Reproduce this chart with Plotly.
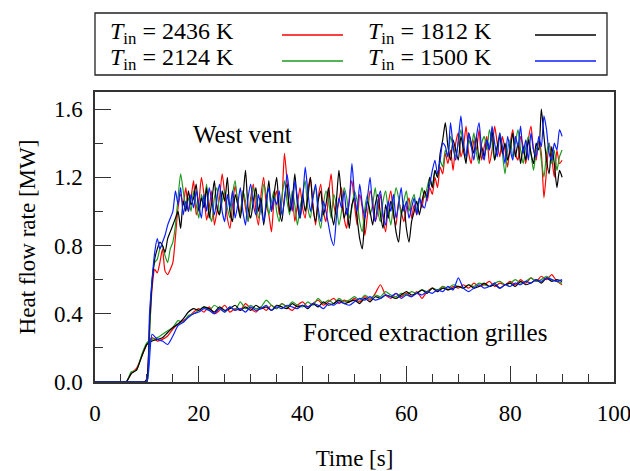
import plotly.graph_objects as go

# ---------------- data ----------------
t_vent = [i * 0.5 for i in range(181)]      # 0 .. 90 s, 0.5 s step
t_grille = list(range(91))                   # 0 .. 90 s, 1 s step

labels = ["2436 K", "2124 K", "1812 K", "1500 K"]

vent_2436 = [
    0, 0, 0, 0, 0, 0, 0, 0, 0, 0,
    0, 0, 0, 0, 0, 0, 0, 0, 0, 0,
    0.02, 0.30, 0.55, 0.66, 0.64, 0.70, 0.78, 0.65, 0.63, 0.66,
    0.70, 0.85, 1.02, 1.10, 1.04, 1.14, 1.00, 1.08, 1.18, 0.98,
    1.05, 1.20, 1.10, 0.95, 1.02, 1.12, 0.92, 1.00, 1.08, 1.22,
    1.10, 0.96, 0.90, 1.04, 1.15, 1.06, 0.98, 1.12, 1.02, 0.94,
    1.08, 1.16, 1.00, 0.92, 1.10, 1.20, 1.04, 0.98, 0.88, 1.06,
    1.12, 0.98, 1.06, 1.34, 1.18, 1.00, 1.10, 0.94, 1.04, 1.14,
    1.02, 0.96, 1.12, 1.20, 1.04, 0.92, 1.08, 1.16, 1.00, 0.94,
    1.10, 1.22, 1.04, 0.98, 1.06, 1.14, 0.96, 0.90, 1.08, 1.18,
    1.04, 0.92, 1.10, 1.02, 0.86, 0.98, 1.12, 1.06, 0.94, 1.00,
    1.10, 0.96, 0.88, 1.04, 1.12, 0.98, 0.92, 1.06, 1.00, 0.94,
    1.02, 1.08, 0.96, 1.04, 0.98, 1.08, 1.02, 1.12, 1.06, 1.14,
    1.10, 1.20, 1.14, 1.26, 1.22, 1.34, 1.28, 1.36, 1.24, 1.40,
    1.46, 1.32, 1.38, 1.50, 1.34, 1.28, 1.42, 1.36, 1.48, 1.30,
    1.38, 1.44, 1.28, 1.36, 1.50, 1.40, 1.32, 1.44, 1.36, 1.26,
    1.40, 1.48, 1.34, 1.30, 1.44, 1.38, 1.28, 1.42, 1.50, 1.36,
    1.30, 1.42, 1.34, 1.08, 1.24, 1.40, 1.32, 1.20, 1.36, 1.28,
    1.30,
]
vent_2124 = [
    0, 0, 0, 0, 0, 0, 0, 0, 0, 0,
    0, 0, 0, 0, 0, 0, 0, 0, 0, 0,
    0.0, 0.26, 0.60, 0.70, 0.72, 0.78, 0.80, 0.74, 0.70, 0.78,
    0.82, 0.92, 1.08, 1.22, 1.12, 1.02, 1.08, 1.00, 1.12, 1.04,
    0.96, 1.10, 1.04, 1.16, 1.00, 0.94, 1.08, 1.14, 0.98, 1.06,
    1.12, 1.02, 0.96, 1.10, 1.18, 1.04, 0.98, 1.12, 1.06, 0.94,
    1.04, 1.14, 1.08, 0.96, 1.02, 1.16, 1.10, 0.98, 1.06, 1.12,
    1.00, 0.94, 1.08, 1.18, 1.06, 0.98, 1.12, 1.04, 0.92, 1.02,
    1.10, 1.18, 1.02, 0.96, 1.08, 1.14, 0.98, 0.90, 1.04, 1.12,
    1.06, 0.96, 1.10, 1.04, 0.92, 1.00, 1.14, 1.08, 0.96, 1.02,
    1.12, 1.06, 0.94, 0.88, 1.02, 1.10, 0.98, 1.04, 1.14, 1.00,
    0.94, 1.06, 1.12, 1.00, 0.92, 1.04, 1.14, 1.08, 0.98, 1.06,
    1.12, 1.00, 1.06, 1.10, 1.00, 1.06, 1.14, 1.08, 1.14, 1.20,
    1.14, 1.24, 1.20, 1.30, 1.26, 1.36, 1.32, 1.44, 1.38, 1.32,
    1.40, 1.48, 1.36, 1.30, 1.42, 1.38, 1.46, 1.34, 1.28, 1.40,
    1.44, 1.36, 1.48, 1.40, 1.30, 1.38, 1.46, 1.34, 1.22, 1.36,
    1.42, 1.32, 1.40, 1.48, 1.36, 1.28, 1.38, 1.44, 1.34, 1.24,
    1.36, 1.42, 1.30, 1.20, 1.34, 1.40, 1.28, 1.36, 1.24, 1.32,
    1.36,
]
vent_1812 = [
    0, 0, 0, 0, 0, 0, 0, 0, 0, 0,
    0, 0, 0, 0, 0, 0, 0, 0, 0, 0,
    0.02, 0.34, 0.58, 0.72, 0.78, 0.82, 0.80, 0.76, 0.84, 0.88,
    0.92, 0.96, 1.00, 0.90, 1.06, 1.00, 1.12, 1.04, 1.08, 1.16,
    1.00, 1.08, 1.02, 1.14, 0.96, 1.06, 1.18, 1.02, 0.98, 1.12,
    1.06, 1.20, 1.00, 0.94, 1.10, 1.04, 0.96, 1.08, 1.24, 1.02,
    0.96, 1.06, 1.14, 1.00, 1.08, 0.92, 1.04, 1.18, 1.00, 1.10,
    1.20, 1.02, 0.94, 1.08, 1.16, 1.00, 1.06, 1.22, 1.04, 0.96,
    1.10, 1.00, 1.08, 1.20, 1.02, 0.94, 1.06, 1.12, 0.98, 1.04,
    1.14, 1.00, 0.92, 1.06, 1.24, 1.08, 0.96, 1.02, 0.90, 1.04,
    1.08, 0.96, 0.84, 0.78, 0.96, 1.06, 1.00, 0.92, 1.04, 1.10,
    0.98, 0.90, 1.04, 0.96, 1.06, 1.00, 0.88, 0.82, 0.98, 1.04,
    0.90, 0.82, 0.94, 1.00, 1.06, 0.98, 1.06, 1.12, 1.08, 1.20,
    1.14, 1.24, 1.20, 1.34, 1.42, 1.52, 1.38, 1.30, 1.42, 1.36,
    1.30, 1.44, 1.36, 1.28, 1.46, 1.40, 1.34, 1.44, 1.30, 1.38,
    1.32, 1.42, 1.36, 1.48, 1.30, 1.38, 1.44, 1.34, 1.40, 1.30,
    1.36, 1.46, 1.32, 1.40, 1.28, 1.38, 1.30, 1.42, 1.34, 1.28,
    1.40, 1.36, 1.60, 1.44, 1.30, 1.22, 1.38, 1.28, 1.14, 1.24,
    1.20,
]
vent_1500 = [
    0, 0, 0, 0, 0, 0, 0, 0, 0, 0,
    0, 0, 0, 0, 0, 0, 0, 0, 0, 0,
    0.0, 0.40, 0.60, 0.76, 0.84, 0.78, 0.82, 0.86, 0.92, 0.96,
    1.00, 1.12, 1.04, 1.14, 0.98, 1.06, 1.00, 1.10, 1.02, 1.12,
    1.04, 0.96, 1.10, 1.00, 1.14, 1.06, 0.98, 1.08, 1.16, 1.00,
    0.94, 1.10, 1.02, 1.12, 0.96, 1.04, 1.14, 1.00, 0.92, 1.08,
    1.16, 1.04, 0.98, 1.10, 1.02, 0.94, 1.06, 1.14, 1.00, 1.08,
    1.04, 1.12, 0.98, 1.06, 1.22, 1.10, 1.00, 1.18, 1.08, 0.96,
    1.06, 1.26, 1.12, 1.00, 1.08, 1.16, 1.02, 0.94, 1.06, 1.00,
    0.92, 0.84, 0.80, 0.96, 1.08, 1.02, 1.12, 0.98, 1.06, 1.28,
    1.10, 1.00, 1.16, 1.04, 0.96, 1.08, 1.20, 1.02, 0.94, 1.06,
    1.12, 0.98, 0.92, 1.06, 1.00, 1.10, 0.96, 1.04, 1.14, 1.00,
    1.06, 0.96, 1.02, 1.08, 0.98, 1.08, 1.04, 1.02, 1.10, 1.16,
    1.24, 1.30, 1.22, 1.30, 1.40, 1.38, 1.32, 1.52, 1.38, 1.30,
    1.42, 1.56, 1.40, 1.32, 1.46, 1.38, 1.30, 1.44, 1.52, 1.36,
    1.30, 1.42, 1.36, 1.50, 1.40, 1.32, 1.46, 1.38, 1.28, 1.44,
    1.36, 1.30, 1.44, 1.38, 1.50, 1.34, 1.42, 1.30, 1.46, 1.36,
    1.32, 1.44, 1.38, 1.56, 1.48, 1.34, 1.30, 1.40, 1.36, 1.48,
    1.44,
]

grille_2436 = [
    0, 0, 0, 0, 0, 0, 0, 0.05, 0.08, 0.15,
    0.22, 0.26, 0.24, 0.25, 0.27, 0.31, 0.34, 0.36, 0.38, 0.41,
    0.43, 0.41, 0.44, 0.40, 0.42, 0.45, 0.41, 0.43, 0.42, 0.46,
    0.43, 0.41, 0.44, 0.42, 0.45, 0.43, 0.46, 0.44, 0.42, 0.45,
    0.47, 0.44, 0.46, 0.48, 0.45, 0.47, 0.49, 0.46, 0.48, 0.47,
    0.49, 0.47, 0.50, 0.48, 0.52, 0.57, 0.51, 0.49, 0.52, 0.50,
    0.52, 0.50, 0.53, 0.49, 0.53, 0.55, 0.53, 0.56, 0.54, 0.56,
    0.55, 0.57, 0.55, 0.58, 0.56, 0.57, 0.59, 0.56, 0.58, 0.57,
    0.59, 0.57, 0.60, 0.58, 0.61, 0.59, 0.62, 0.60, 0.63, 0.59,
    0.57,
]
grille_2124 = [
    0, 0, 0, 0, 0, 0, 0, 0.06, 0.07, 0.16,
    0.23, 0.25, 0.26, 0.28, 0.30, 0.32, 0.36, 0.35, 0.39, 0.40,
    0.42, 0.44, 0.42, 0.45, 0.43, 0.41, 0.44, 0.42, 0.47, 0.43,
    0.45, 0.43, 0.44, 0.48, 0.45, 0.43, 0.46, 0.44, 0.47, 0.45,
    0.44, 0.47, 0.45, 0.49, 0.46, 0.48, 0.46, 0.49, 0.47, 0.48,
    0.50, 0.48, 0.51, 0.49, 0.51, 0.50, 0.53, 0.51, 0.50, 0.52,
    0.51, 0.53, 0.52, 0.54, 0.53, 0.55, 0.54, 0.56, 0.55, 0.57,
    0.56, 0.55, 0.57, 0.56, 0.58, 0.57, 0.56, 0.58, 0.59, 0.57,
    0.58, 0.60, 0.58, 0.59, 0.61, 0.59, 0.60, 0.62, 0.60, 0.59,
    0.58,
]
grille_1812 = [
    0, 0, 0, 0, 0, 0, 0, 0.05, 0.07, 0.15,
    0.22, 0.24, 0.25, 0.26, 0.29, 0.32, 0.34, 0.37, 0.41, 0.43,
    0.42, 0.44, 0.43, 0.41, 0.44, 0.42, 0.43, 0.45, 0.42, 0.44,
    0.42, 0.45, 0.43, 0.44, 0.42, 0.45, 0.44, 0.43, 0.46, 0.44,
    0.45, 0.43, 0.46, 0.44, 0.47, 0.45, 0.46, 0.48, 0.46, 0.47,
    0.48, 0.46, 0.49, 0.47, 0.50, 0.49, 0.51, 0.50, 0.49, 0.51,
    0.53, 0.51, 0.52, 0.54, 0.52, 0.55, 0.53, 0.55, 0.54, 0.55,
    0.56, 0.55, 0.57, 0.55, 0.56, 0.58, 0.56, 0.57, 0.55, 0.57,
    0.58, 0.56, 0.59, 0.57, 0.58, 0.60, 0.58, 0.61, 0.59, 0.60,
    0.59,
]
grille_1500 = [
    0, 0, 0, 0, 0, 0, 0, 0, 0, 0,
    0.0, 0.28, 0.25, 0.24, 0.22, 0.27, 0.33, 0.35, 0.38, 0.40,
    0.41, 0.43, 0.42, 0.40, 0.43, 0.41, 0.44, 0.42, 0.43, 0.41,
    0.44, 0.42, 0.43, 0.45, 0.42, 0.44, 0.43, 0.45, 0.44, 0.43,
    0.45, 0.44, 0.46, 0.45, 0.43, 0.46, 0.45, 0.47, 0.46, 0.45,
    0.47, 0.49, 0.48, 0.50, 0.48, 0.49, 0.51, 0.50, 0.52, 0.49,
    0.51, 0.50, 0.52, 0.51, 0.53, 0.52, 0.54, 0.53, 0.56, 0.54,
    0.61, 0.55, 0.53, 0.55, 0.57, 0.55, 0.56, 0.58, 0.55, 0.57,
    0.56, 0.58, 0.57, 0.59, 0.58, 0.60, 0.59, 0.61, 0.60, 0.59,
    0.60,
]

x_ticks = [0, 20, 40, 60, 80, 100]
y_ticks = [0.0, 0.4, 0.8, 1.2, 1.6]

# ---------------- styling ----------------
W, H = 630, 471
L, R, T, B = 95, 16, 92, 89
colors = ["#ff0000", "#1f9a1f", "#000000", "#0a1eff"]
FONT = "Liberation Serif"
FS_TICK = 23
FS_TITLE = 23
FS_LEG = 24
FS_ANN = 25

vents = [vent_2436, vent_2124, vent_1812, vent_1500]
grilles = [grille_2436, grille_2124, grille_1812, grille_1500]

fig = go.Figure()
for lab, c, g in zip(labels, colors, grilles):
    fig.add_trace(go.Scatter(x=t_grille, y=g, mode="lines", name=lab,
                             line=dict(color=c, width=1.2, shape="spline", smoothing=0.6),
                             showlegend=False))
for lab, c, v in zip(labels, colors, vents):
    fig.add_trace(go.Scatter(x=t_vent, y=v, mode="lines", name=lab,
                             line=dict(color=c, width=1.2, shape="spline", smoothing=0.6),
                             showlegend=False))

pw, ph = W - L - R, H - T - B
def px(x):
    return (x - L) / pw
def py(y):
    return (H - B - y) / ph

shapes = [dict(type="rect", xref="paper", yref="paper",
               x0=px(95), x1=px(607), y0=py(75), y1=py(13),
               line=dict(color="#222", width=1.3), fillcolor="white")]
annotations = []
leg_pos = [(108, 282, 33), (108, 282, 59), (366, 535, 33), (366, 535, 59)]
for lab, c, (tx, lx, yy) in zip(labels, colors, leg_pos):
    annotations.append(dict(xref="paper", yref="paper", x=px(tx), y=py(yy),
                            xanchor="left", yanchor="middle", showarrow=False,
                            text="<i>T</i><sub>in</sub> = " + lab,
                            font=dict(family=FONT, size=FS_LEG, color="black")))
    shapes.append(dict(type="line", xref="paper", yref="paper",
                       x0=px(lx), x1=px(lx + 61), y0=py(yy + 2), y1=py(yy + 2),
                       line=dict(color=c, width=1.3)))

annotations.append(dict(x=28.5, y=1.45, text="West vent", showarrow=False,
                        font=dict(family=FONT, size=FS_ANN, color="black")))
annotations.append(dict(x=63.5, y=0.29, text="Forced extraction grilles", showarrow=False,
                        font=dict(family=FONT, size=FS_ANN, color="black")))

fig.update_layout(
    width=W, height=H,
    margin=dict(l=L, r=R, t=T, b=B, autoexpand=False),
    paper_bgcolor="white", plot_bgcolor="white",
    font=dict(family=FONT, size=FS_TICK, color="black"),
    shapes=shapes, annotations=annotations,
    showlegend=False,
)
fig.update_xaxes(range=[0, 100], tickvals=x_ticks, ticks="inside", ticklen=16,
                 tickcolor="#333", tickwidth=1.2, ticklabeloverflow="allow",
                 automargin=False,
                 tickfont=dict(family=FONT, size=FS_TICK),
                 minor=dict(dtick=5, ticks="inside", ticklen=8, tickcolor="#333", tickwidth=1.2),
                 showline=True, linecolor="#333", linewidth=1.5, mirror=True,
                 showgrid=False, zeroline=False, ticklabelstandoff=10,
                 title=dict(text="Time [s]", standoff=30,
                            font=dict(family=FONT, size=FS_TITLE)))
fig.update_yaxes(range=[0, 1.7], tickvals=y_ticks, tickformat=".1f", ticks="inside", ticklen=16,
                 tickcolor="#333", tickwidth=1.2, automargin=False,
                 tickfont=dict(family=FONT, size=FS_TICK),
                 minor=dict(dtick=0.2, ticks="inside", ticklen=8, tickcolor="#333", tickwidth=1.2),
                 showline=True, linecolor="#333", linewidth=1.5, mirror=True,
                 showgrid=False, zeroline=False, ticklabelstandoff=6,
                 title=dict(text="Heat flow rate [MW]", standoff=12,
                            font=dict(family=FONT, size=FS_TITLE)))

fig.write_html("out.html")
